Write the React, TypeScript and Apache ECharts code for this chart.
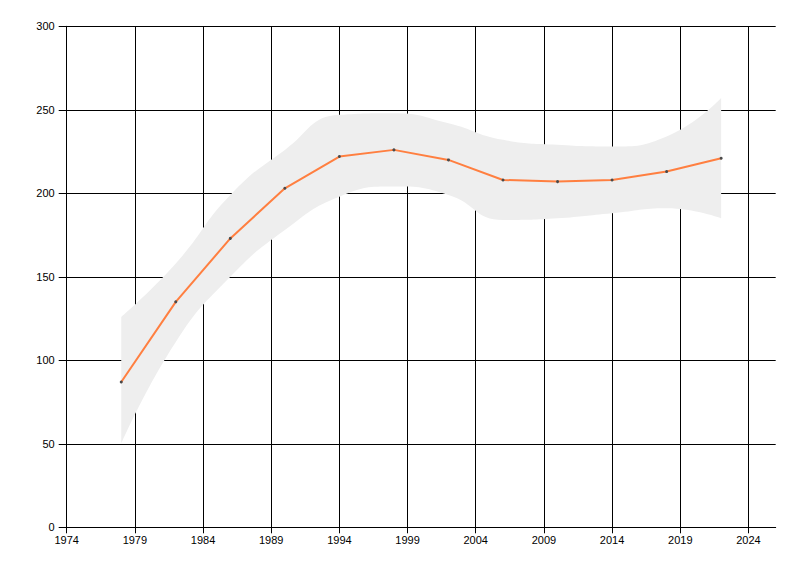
import { useEffect, useRef } from "react";
import * as echarts from "echarts";

const years = [1978, 1982, 1986, 1990, 1994, 1998, 2002, 2006, 2010, 2014, 2018, 2022];
const values = [87, 135, 173, 203, 222, 226, 220, 208, 207, 208, 213, 221];
const upper = [126, 158, 199, 226, 247, 248, 242, 232, 229, 228, 234, 257];
const lower = [50, 111, 150, 178, 198, 204, 199, 184, 185, 188, 191, 185];

const font = "'Liberation Sans', Arial, sans-serif";

export default function App() {
  const ref = useRef<HTMLDivElement>(null);

  useEffect(() => {
    const el = ref.current;
    if (!el) return;
    const chart = echarts.init(el, undefined, { renderer: "svg" });
    const left = 66.7;
    const right = 24.3;
    const pxPerYear = (800 - left - right) / (2026 - 1974);
    const pos = { top: 26.3, bottom: 48.7 };
    chart.setOption({
      animation: false,
      backgroundColor: "#ffffff",
      grid: [
        { ...pos, left, right },
        // ends at 2024: vertical grid lines and x labels
        { ...pos, left, right: 800 - left - 50 * pxPerYear },
        // data grid: category axis spanning first..last year
        {
          ...pos,
          left: left + (years[0] - 1974) * pxPerYear,
          right: 800 - left - (years[years.length - 1] - 1974) * pxPerYear,
        },
      ],
      xAxis: [
        {
          type: "value",
          gridIndex: 0,
          min: 1974,
          max: 2026,
          axisLine: { show: true, onZero: false, lineStyle: { color: "#000", width: 1 } },
          axisTick: { show: false },
          axisLabel: { show: false },
          splitLine: { show: false },
        },
        {
          type: "value",
          gridIndex: 1,
          min: 1974,
          max: 2024,
          interval: 5,
          axisLine: { show: false },
          axisTick: { show: true, length: 6, lineStyle: { color: "#000" } },
          axisLabel: {
            fontSize: 11,
            color: "#000",
            margin: 7,
            fontFamily: font,
            formatter: (v: number) => String(v),
          },
          splitLine: { show: true, lineStyle: { color: "#000", width: 1 } },
        },
        {
          type: "category",
          gridIndex: 2,
          data: years.map(String),
          boundaryGap: false,
          show: false,
        },
      ],
      yAxis: [
        {
          type: "value",
          gridIndex: 0,
          min: 0,
          max: 300,
          interval: 50,
          axisLine: { show: true, lineStyle: { color: "#000", width: 1 } },
          axisTick: { show: true, length: 8, lineStyle: { color: "#000" } },
          axisLabel: { fontSize: 11, color: "#000", margin: 12, fontFamily: font },
          splitLine: { show: true, lineStyle: { color: "#000", width: 1 } },
        },
        { type: "value", gridIndex: 1, min: 0, max: 300, show: false },
        { type: "value", gridIndex: 2, min: 0, max: 300, show: false },
      ],
      series: [
        {
          type: "line",
          xAxisIndex: 2,
          yAxisIndex: 2,
          stack: "band",
          smooth: 0.5,
          data: lower,
          symbol: "none",
          lineStyle: { opacity: 0 },
          silent: true,
          z: 2,
        },
        {
          type: "line",
          xAxisIndex: 2,
          yAxisIndex: 2,
          stack: "band",
          smooth: 0.5,
          data: upper.map((u, i) => u - lower[i]),
          symbol: "none",
          lineStyle: { opacity: 0 },
          areaStyle: { color: "#eeeeee", opacity: 1 },
          silent: true,
          z: 2,
        },
        {
          type: "line",
          xAxisIndex: 2,
          yAxisIndex: 2,
          data: values,
          symbol: "circle",
          symbolSize: 3,
          itemStyle: { color: "#4a4a4a" },
          lineStyle: { color: "#ff7f40", width: 2 },
          z: 3,
        },
      ],
    });
    return () => chart.dispose();
  }, []);

  return (
    <div
      ref={ref}
      style={{ position: "fixed", left: 0, top: 0, width: 800, height: 576, background: "#fff" }}
    />
  );
}
